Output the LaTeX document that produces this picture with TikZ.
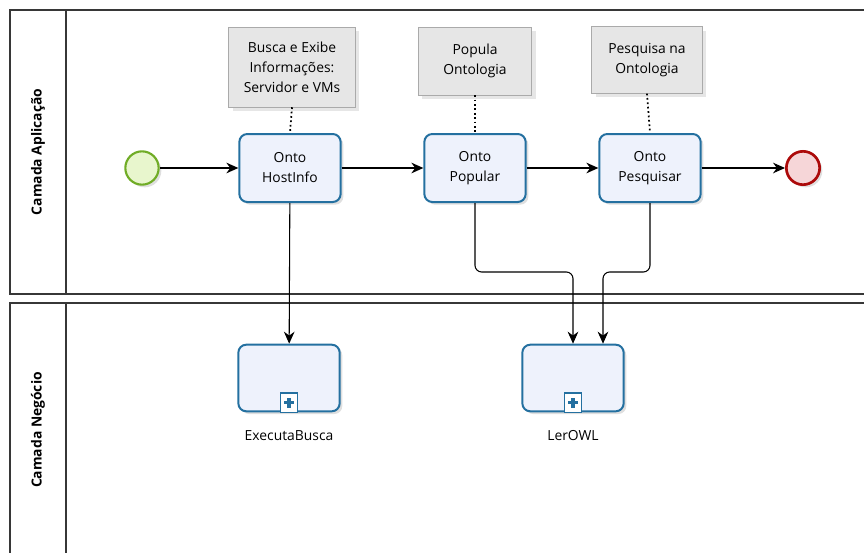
\documentclass[tikz,border=0pt]{standalone}
\usepackage{fontspec}
\setmainfont{Open Sans}
\usetikzlibrary{positioning, arrows.meta, shadows}

\definecolor{poolline}{RGB}{55,55,55}
\definecolor{taskline}{RGB}{36,112,160}
\definecolor{taskfill}{RGB}{238,242,252}
\definecolor{startline}{RGB}{112,172,38}
\definecolor{startfill}{RGB}{232,246,205}
\definecolor{endline}{RGB}{172,10,10}
\definecolor{endfill}{RGB}{246,214,216}
\definecolor{noteline}{RGB}{170,170,170}
\definecolor{notefill}{RGB}{230,230,230}

\begin{document}
\begin{tikzpicture}[x=0.75pt, y=-0.75pt,
    font=\fontsize{10.4}{15}\selectfont,
    pool/.style={draw=poolline, line width=1pt},
    poolname/.style={rotate=90, font=\fontsize{10.4}{12}\selectfont\bfseries},
    task/.style={draw=taskline, line width=1.5pt, fill=taskfill, rounded corners=6pt,
      minimum width=76pt, minimum height=51pt, align=center,
      drop shadow={opacity=0.25, shadow xshift=2pt, shadow yshift=-2pt}},
    note/.style={draw=noteline, fill=notefill, align=center, inner sep=2pt,
      drop shadow={opacity=0.2, shadow xshift=3pt, shadow yshift=-3pt}},
    event/.style={circle, minimum size=25pt, inner sep=0pt,
      drop shadow={opacity=0.25, shadow xshift=2pt, shadow yshift=-2pt}},
    flow/.style={draw=black, line width=0.8pt, -{Stealth[length=9pt,width=8pt]}},
    assoc/.style={draw=black, line width=1.3pt, dotted}]

  \clip (0,0) rectangle (864,553);

  % Pools
  \draw[pool] (876,10) -- (10,10) -- (10,294) -- (876,294);
  \draw[pool] (66,10) -- (66,294);
  \draw[pool] (876,303) -- (10,303) -- (10,570);
  \draw[pool] (66,303) -- (66,570);
  \node[poolname] (aplicacao) at (38,152) {Camada Aplicação};
  \node[poolname] (negocio) at (38,430) {Camada Negócio};

  % Events
  \node[event, draw=startline, line width=1.6pt, fill=startfill] (start) at (142,168) {};
  \node[event, draw=endline, line width=2pt, fill=endfill] (end) at (803,168) {};

  % Tasks
  \node[task] (hostinfo) at (290,168) {Onto\\HostInfo};
  \node[task] (popular) at (475,168) {Onto\\Popular};
  \node[task] (pesquisar) at (650,168) {Onto\\Pesquisar};

  % Sub-processes
  \node[task, minimum height=50pt] (busca) at (289,378) {};
  \node[task, minimum height=50pt] (lerowl) at (573,378) {};
  \node[below=10pt of busca] (buscalabel) {ExecutaBusca};
  \node[below=10pt of lerowl] (lerowllabel) {LerOWL};
  \foreach \sub in {busca, lerowl} {
    \draw[taskline, line width=1.2pt, fill=white] ([xshift=-6.5pt]\sub.south) rectangle ([xshift=6.5pt, yshift=14.5pt]\sub.south);
    \draw[taskline, line width=2.4pt] ([yshift=3.5pt]\sub.south) -- ([yshift=11pt]\sub.south);
    \draw[taskline, line width=2.4pt] ([xshift=-3.7pt, yshift=7.2pt]\sub.south) -- ([xshift=3.7pt, yshift=7.2pt]\sub.south);
  }

  % Annotations
  \node[note, minimum width=95pt, minimum height=60pt] (notehost) at (292,67) {Busca e Exibe\\Informações:\\Servidor e VMs};
  \node[note, minimum width=85pt, minimum height=51pt] (notepop) at (475,61) {Popula\\Ontologia};
  \node[note, minimum width=83pt, minimum height=50pt] (notepesq) at (647,60) {Pesquisa na\\Ontologia};
  \draw[assoc] (notehost.south) -- (hostinfo.north);
  \draw[assoc] (notepop.south) -- (popular.north);
  \draw[assoc] (notepesq.south) -- (pesquisar.north);

  % Sequence flows
  \draw[flow] (start) -- (hostinfo);
  \draw[flow] (hostinfo) -- (popular);
  \draw[flow] (popular) -- (pesquisar);
  \draw[flow] (pesquisar) -- (end);
  \draw[flow] (hostinfo) -- (busca);
  \draw[flow, rounded corners=5pt] (popular.south) -- ++(0,69) -| (lerowl.north);
  \draw[flow, rounded corners=5pt] (pesquisar.south) -- ++(0,69) -| ([xshift=22.5pt]lerowl.north);
\end{tikzpicture}
\end{document}
